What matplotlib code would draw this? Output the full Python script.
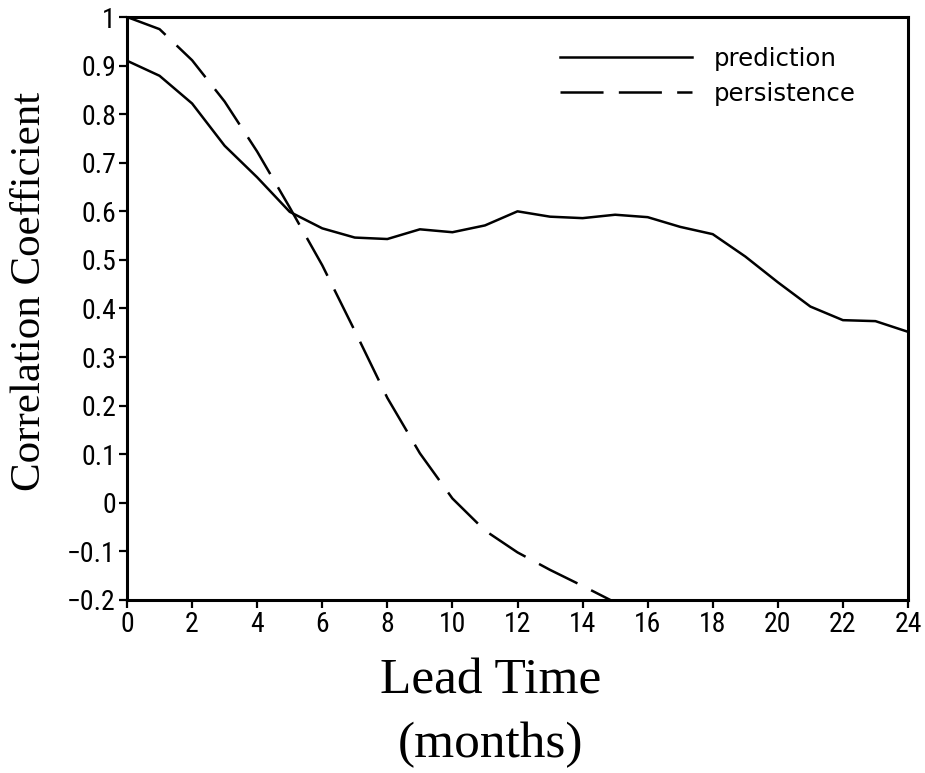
import matplotlib
matplotlib.use("Agg")
import matplotlib.pyplot as plt

# lead time in months
lead = list(range(25))
prediction = [0.910, 0.879, 0.822, 0.735, 0.670, 0.599, 0.565, 0.546, 0.543, 0.563,
              0.557, 0.571, 0.600, 0.589, 0.586, 0.593, 0.588, 0.568, 0.553, 0.507,
              0.454, 0.404, 0.376, 0.374, 0.352]

lead_pers = list(range(16))
persistence = [1.000, 0.975, 0.911, 0.826, 0.723, 0.608, 0.489, 0.354, 0.216, 0.102,
               0.009, -0.057, -0.102, -0.138, -0.171, -0.205]

xticks = list(range(0, 25, 2))
yticks = [round(-0.2 + 0.1 * i, 1) for i in range(13)]
ytick_labels = ['\u22120.2', '\u22120.1', '0', '0.1', '0.2', '0.3', '0.4', '0.5',
                '0.6', '0.7', '0.8', '0.9', '1']

plt.rcParams['lines.scale_dashes'] = False
sans = ['Roboto Condensed', 'DejaVu Sans']
serif = ['Liberation Serif', 'DejaVu Serif']

W, H = 925, 773
fig = plt.figure(figsize=(W / 100, H / 100), dpi=100)
ax = fig.add_axes([127 / W, 1 - 600 / H, (908 - 127) / W, (600 - 17) / H])

ax.plot(lead, prediction, color='black', lw=1.8, label='prediction')
ax.plot(lead_pers, persistence, color='black', lw=1.8, dashes=(31, 11),
        label='persistence')

ax.set_xlim(0, 24)
ax.set_ylim(-0.2, 1)
ax.set_xticks(xticks)
ax.set_yticks(yticks)
ax.set_yticklabels(ytick_labels)

for s in ax.spines.values():
    s.set_linewidth(2.2)
ax.tick_params(direction='out', length=6, width=1.6, pad=2)
for lab in ax.get_xticklabels() + ax.get_yticklabels():
    lab.set_family(sans)
    lab.set_fontsize(20)

ax.legend(loc='upper left', bbox_to_anchor=((560 - 127) / 781, (600 - 47) / 583),
          frameon=False, borderpad=0, borderaxespad=0,
          handlelength=5.4, handletextpad=0.9, labelspacing=0.45,
          prop={'family': 'DejaVu Sans', 'size': 17.6})

fig.text(30 / W, 1 - 291 / H, 'Correlation Coefficient', family=serif, fontsize=31,
         rotation=90, ha='center', va='center')
fig.text(491 / W, 1 - 694 / H, 'Lead Time', family=serif, fontsize=37,
         ha='center', va='baseline')
fig.text(491 / W, 1 - 757 / H, '(months)', family=serif, fontsize=37,
         ha='center', va='baseline')

fig.savefig('out.png', dpi=100)
